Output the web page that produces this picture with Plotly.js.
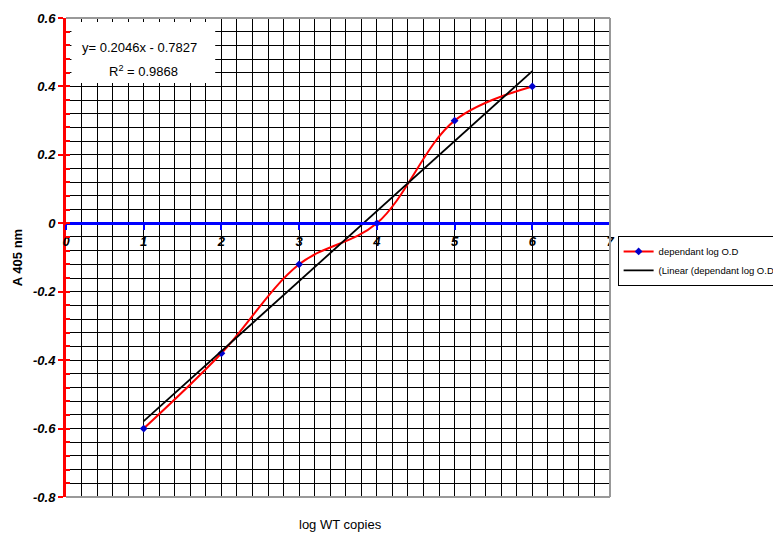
<!DOCTYPE html>
<html>
<head>
<meta charset="utf-8">
<script src="https://cdn.plot.ly/plotly-3.0.1.min.js"></script>
<style>html,body{margin:0;padding:0;background:#fff;}#chart{width:773px;height:536px;}</style>
</head>
<body>
<div id="chart"></div>
<script>
// Data
const logCopies = [1, 2, 3, 4, 5, 6];
const absorbance = [-0.6, -0.38, -0.12, 0.0, 0.3, 0.4];
const xTickVals = [0, 1, 2, 3, 4, 5, 6, 7];
const yTickVals = [0.6, 0.4, 0.2, 0, -0.2, -0.4, -0.6, -0.8];
const yTickText = ['0.6', '0.4', '0.2', '0', '-0.2', '-0.4', '-0.6', '-0.8'];
const seriesName = 'dependant log O.D';
const trendName = '(Linear (dependant log O.D';
const equationText = 'y= 0.2046x - 0.7827';
const r2Text = 'R<sup>2</sup> = 0.9868';

// least-squares trendline from the data
const n = logCopies.length;
const mx = logCopies.reduce((a, b) => a + b, 0) / n;
const my = absorbance.reduce((a, b) => a + b, 0) / n;
let sxy = 0, sxx = 0;
for (let i = 0; i < n; i++) { sxy += (logCopies[i] - mx) * (absorbance[i] - my); sxx += (logCopies[i] - mx) ** 2; }
const slope = sxy / sxx, intercept = my - slope * mx;
const trendX = [logCopies[0], logCopies[n - 1]];
const trendY = trendX.map(x => slope * x + intercept);

const boldItalic = {family: 'Liberation Sans, Arial, sans-serif', size: 13, color: '#000', weight: 'bold', style: 'italic'};
const plainFont = {family: 'Liberation Sans, Arial, sans-serif', size: 12, color: '#000'};

const traces = [
  {x: logCopies, y: absorbance, mode: 'lines+markers', name: seriesName,
   line: {color: '#ff0000', width: 2, shape: 'spline', smoothing: 1},
   marker: {symbol: 'diamond', size: 6, color: '#0000cc'}},
  {x: trendX, y: trendY, mode: 'lines', name: trendName,
   line: {color: '#000000', width: 1.8}}
];

const layout = {
  width: 773, height: 536,
  margin: {l: 66, r: 163, t: 18, b: 39, autoexpand: false},
  paper_bgcolor: '#fff', plot_bgcolor: '#fff',
  showlegend: true,
  legend: {x: 1.014, y: 0.545, xanchor: 'left', yanchor: 'top',
    bordercolor: '#000', borderwidth: 1, bgcolor: '#fff',
    font: {family: 'Liberation Sans, Arial, sans-serif', size: 9.5, color: '#000'},
    tracegroupgap: 2, itemwidth: 30},
  xaxis: {range: [0, 7], tickvals: xTickVals, ticktext: xTickVals.map(String),
    anchor: 'free', position: 0.8 / 1.4,
    showline: true, linecolor: '#0000ff', linewidth: 3,
    ticks: 'outside', ticklen: 5, tickcolor: '#0000ff', tickwidth: 2,
    tickfont: boldItalic,
    showgrid: true, gridcolor: '#000', gridwidth: 1,
    minor: {dtick: 0.2, showgrid: true, gridcolor: '#000', gridwidth: 1},
    zeroline: false, fixedrange: true},
  yaxis: {range: [-0.8, 0.6], tickvals: yTickVals, ticktext: yTickText,
    showline: true, linecolor: '#ff0000', linewidth: 3,
    ticks: 'outside', ticklen: 5, tickcolor: '#ff0000', tickwidth: 2,
    tickfont: boldItalic,
    showgrid: true, gridcolor: '#000', gridwidth: 1,
    minor: {dtick: 0.04, showgrid: true, gridcolor: '#000', gridwidth: 1, ticks: 'inside', ticklen: 4, tickcolor: '#ff0000', tickwidth: 2},
    zeroline: true, zerolinecolor: '#0000ff', zerolinewidth: 3,
    title: {text: 'A 405 nm', font: {family: 'Liberation Sans, Arial, sans-serif', size: 13, color: '#000', weight: 'bold'}, standoff: 8},
    fixedrange: true},
  shapes: [
    {type: 'line', xref: 'paper', yref: 'paper', x0: 0, x1: 1, y0: 1, y1: 1, line: {color: '#999', width: 2}, layer: 'above'},
    {type: 'line', xref: 'paper', yref: 'paper', x0: 0, x1: 1, y0: 0, y1: 0, line: {color: '#999', width: 2}, layer: 'above'},
    {type: 'line', xref: 'paper', yref: 'paper', x0: 1, x1: 1, y0: 0, y1: 1, line: {color: '#999', width: 2}, layer: 'above'},
    {type: 'rect', xref: 'x', yref: 'y', x0: 0.07, x1: 1.92, y0: 0.41, y1: 0.588, fillcolor: '#fff', line: {width: 0}, layer: 'above'}
  ],
  annotations: [
    {xref: 'x', yref: 'y', x: 0.95, y: 0.515, text: equationText, showarrow: false, font: {...plainFont, size: 13}},
    {xref: 'x', yref: 'y', x: 1.0, y: 0.445, text: r2Text, showarrow: false, font: {...plainFont, size: 13}},
    {xref: 'paper', yref: 'paper', x: (340 - 66) / 544, y: -0.057, yanchor: 'middle', text: 'log WT copies', showarrow: false, font: {...plainFont, size: 13}}
  ]
};

Plotly.newPlot('chart', traces, layout, {displayModeBar: false, staticPlot: true});
</script>
</body>
</html>
